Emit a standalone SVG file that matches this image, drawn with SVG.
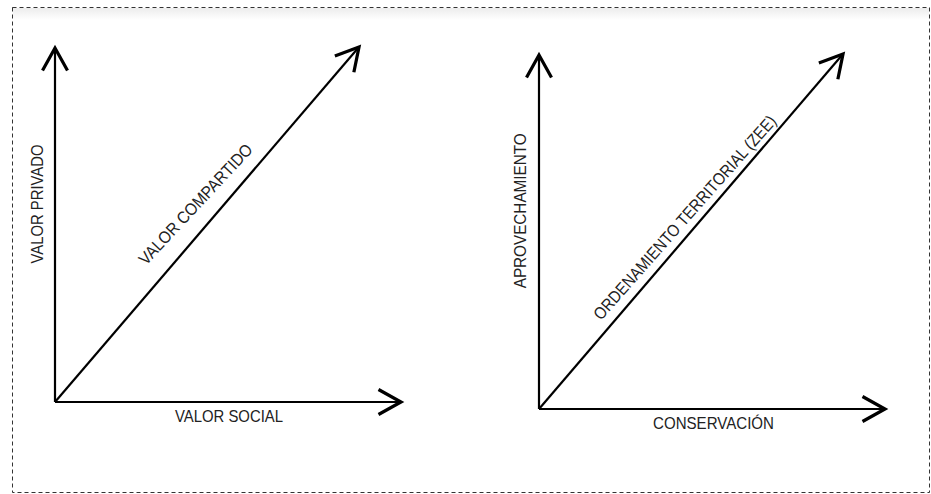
<svg xmlns="http://www.w3.org/2000/svg" width="931" height="494" viewBox="0 0 931 494">
  <style>
    .axis { stroke: #000; stroke-width: 2.2; fill: none; marker-end: url(#arrow); }
    .lbl { font-family: "Liberation Sans", Arial, sans-serif; font-size: 17px; fill: #222; }
    .frame { fill: none; stroke: #333; stroke-width: 1; stroke-dasharray: 4 3; }
  </style>
  <defs>
    <marker id="arrow" markerUnits="userSpaceOnUse" markerWidth="30" markerHeight="30" viewBox="-20 -12 24 24" refX="0" refY="0" orient="auto" overflow="visible">
      <path d="M-18,-10 L0,0 L-18,10" fill="none" stroke="#000" stroke-width="2.6" stroke-linejoin="miter"/>
    </marker>
    <linearGradient id="shade" x1="0" y1="0" x2="0" y2="1">
      <stop offset="0" stop-color="#ececec"/>
      <stop offset="1" stop-color="#ffffff"/>
    </linearGradient>
  </defs>
  <rect x="0" y="0" width="931" height="494" fill="#fff"/>
  <rect x="13" y="8" width="916" height="12" fill="url(#shade)"/>
  <rect class="frame" x="12.5" y="7.5" width="917" height="485"/>

  <g id="connectors">
    <line class="axis" x1="55" y1="402" x2="55" y2="48"/>
    <line class="axis" x1="55" y1="402" x2="401" y2="402"/>
    <line class="axis" x1="55" y1="402" x2="359" y2="47"/>
    <line class="axis" x1="539" y1="409" x2="539" y2="55"/>
    <line class="axis" x1="539" y1="409" x2="885" y2="409"/>
    <line class="axis" x1="539" y1="409" x2="843" y2="54"/>
  </g>

  <g id="valor-privado">
    <text class="lbl" transform="translate(43,263.5) rotate(-90)" textLength="119" lengthAdjust="spacingAndGlyphs">VALOR PRIVADO</text>
  </g>
  <g id="valor-social">
    <text class="lbl" x="229" y="421.7" text-anchor="middle" textLength="108" lengthAdjust="spacingAndGlyphs">VALOR SOCIAL</text>
  </g>
  <g id="valor-compartido">
    <text class="lbl" transform="translate(146,266) rotate(-47)" textLength="158" lengthAdjust="spacingAndGlyphs">VALOR COMPARTIDO</text>
  </g>
  <g id="aprovechamiento">
    <text class="lbl" transform="translate(526,288.3) rotate(-90)" textLength="155" lengthAdjust="spacingAndGlyphs">APROVECHAMIENTO</text>
  </g>
  <g id="conservacion">
    <text class="lbl" x="713.5" y="429.3" text-anchor="middle" textLength="121" lengthAdjust="spacingAndGlyphs">CONSERVACIÓN</text>
  </g>
  <g id="ordenamiento">
    <text class="lbl" transform="translate(601,321) rotate(-48.5)" textLength="266" lengthAdjust="spacingAndGlyphs">ORDENAMIENTO TERRITORIAL (ZEE)</text>
  </g>
</svg>
